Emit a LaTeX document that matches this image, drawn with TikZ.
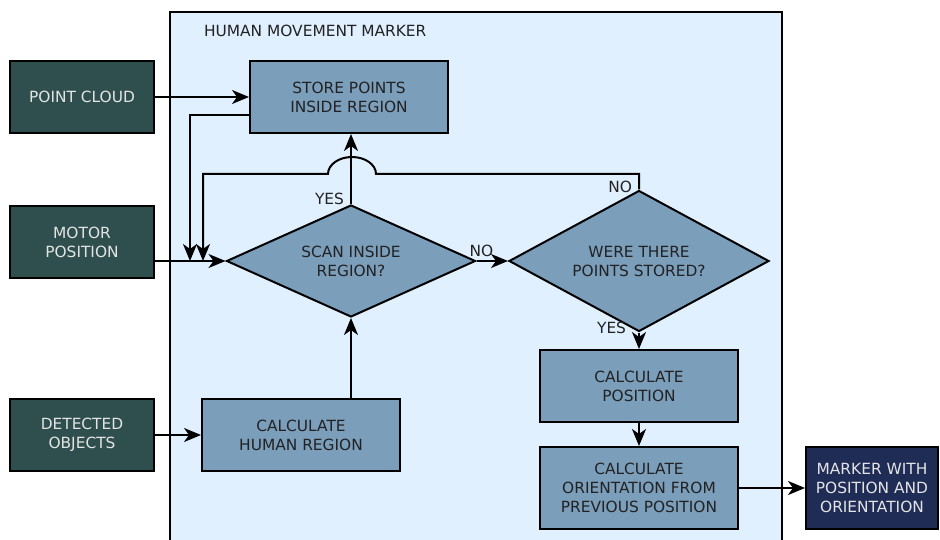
\documentclass[tikz,border=0pt]{standalone}
\usepackage{fontspec}
\setmainfont{DejaVu Sans}
\usetikzlibrary{shapes.geometric,arrows.meta}
\definecolor{inbox}{HTML}{2F4F4F}
\definecolor{procbox}{HTML}{7B9EBB}
\definecolor{panel}{HTML}{E0F0FF}
\definecolor{outbox}{HTML}{1F2C56}
\definecolor{inktext}{HTML}{222222}
\definecolor{lighttext}{HTML}{E4E4E4}

\begin{document}
\begin{tikzpicture}[x=1pt,y=-1pt,line width=2pt,
  every node/.style={font=\fontsize{15.4}{19}\selectfont,align=center},
  inputbox/.style={draw=black,fill=inbox,text=lighttext,minimum width=144pt,minimum height=72pt,inner sep=0pt},
  procstep/.style={draw=black,fill=procbox,text=inktext,minimum width=198pt,minimum height=72pt,inner sep=0pt},
  resultbox/.style={draw=black,fill=outbox,text=lighttext,minimum width=132pt,minimum height=82pt,inner sep=0pt},
  decision/.style={diamond,draw=black,fill=procbox,text=inktext,inner sep=0pt,aspect=2},
  flow/.style={-{Stealth[length=17pt,width=14pt,inset=5pt]}},
  tag/.style={text=inktext,inner sep=0pt}]

\useasboundingbox (0,0) rectangle (940,540);

% module panel, open at the bottom
\fill[panel] (170,12) rectangle (782,545);
\draw (170,545) -- (170,12) -- (782,12) -- (782,545);
\node[tag,anchor=west] (title) at (203,31) {HUMAN MOVEMENT MARKER};

% inputs
\node[inputbox] (cloud)    at (82,97)  {POINT CLOUD};
\node[inputbox] (motor)    at (82,242) {MOTOR\\POSITION};
\node[inputbox] (detected) at (82,435) {DETECTED\\OBJECTS};

% processing steps
\node[procstep] (store) at (349,97) {STORE POINTS\\INSIDE REGION};
\node[decision,minimum width=249pt,minimum height=112pt] (scan) at (351,261) {SCAN INSIDE\\REGION?};
\node[decision,minimum width=260pt,minimum height=141pt] (were) at (639,261) {WERE THERE\\POINTS STORED?};
\node[procstep] (human) at (301,435) {CALCULATE\\HUMAN REGION};
\node[procstep] (position) at (639,386) {CALCULATE\\POSITION};
\node[procstep,minimum height=82pt] (orient) at (639,488) {CALCULATE\\ORIENTATION FROM\\PREVIOUS POSITION};

% output
\node[resultbox] (marker) at (872,488) {MARKER WITH\\POSITION AND\\ORIENTATION};

% helper points for the feedback lines
\coordinate (storeout) at (250,115);
\coordinate (feedA) at (190,261);
\coordinate (feedB) at (203,261);
\coordinate (loopup) at (639,174);
\coordinate (hopR) at (376,174);
\coordinate (hopL) at (328,174);
\coordinate (loopleft) at (203,174);

% connectors
\draw[flow] (cloud.east) -- (store.west);
\draw[flow] (motor.east |- scan.west) -- (scan.west);
\draw[flow] (detected.east) -- (human.west);
\draw[flow] (human.north -| scan.south) -- (scan.south);
\draw[flow] (scan.north) -- (store.south -| scan.north);
\draw[flow] (scan.east) -- (were.west);
\draw[flow] (were.south) -- (position.north);
\draw[flow] (position.south) -- (orient.north);
\draw[flow] (orient.east) -- (marker.west);
\draw[flow] (storeout) -| (feedA);
\draw[flow] (were.north) -- (loopup) -- (hopR)
  arc[start angle=0,end angle=180,x radius=24pt,y radius=17pt]
  -- (hopL) -- (loopleft) -- (feedB);

% branch labels
\node[tag,anchor=south east] (yesup) at ([xshift=-6pt,yshift=-2pt]scan.north) {YES};
\node[tag,anchor=south west] (noright) at ([xshift=-8pt,yshift=3pt]scan.east) {NO};
\node[tag,anchor=east] (noup) at ([xshift=-6pt,yshift=3pt]were.north) {NO};
\node[tag,anchor=east] (yesdown) at ([xshift=-12pt,yshift=5pt]were.south) {YES};
\end{tikzpicture}
\end{document}
